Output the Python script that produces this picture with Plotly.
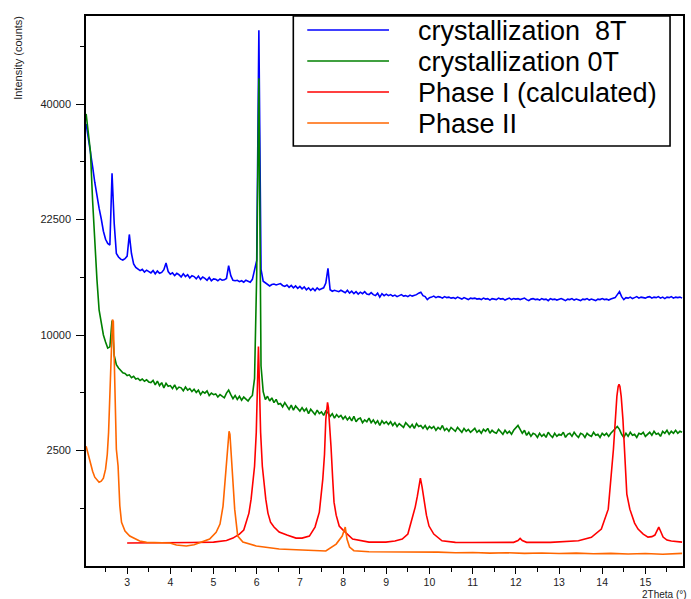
import numpy as np
import plotly.graph_objects as go

# ---------------------------------------------------------------------------
# Powder diffraction data (intensity in counts)
# ---------------------------------------------------------------------------

# measured scans share the same 2theta grid (0.05 deg step)
scan_2theta = np.linspace(2.05, 15.85, 277)

cryst_8t = [
    36630, 34500, 32500, 29900, 27600, 25600, 24000, 22600, 21000, 20000,   # 2.05-2.50
    19500, 19300, 28900, 22000, 18300, 17900, 17650, 17550, 17700, 18000,   # 2.55-3.00
    20600, 18300, 17100, 16700, 16500, 16350, 16500, 16200, 16400, 16250,   # 3.05-3.50
    16100, 16350, 16000, 16300, 16050, 16150, 16450, 17200, 16250, 15950,   # 3.55-4.00
    16100, 15800, 16050, 15900, 15650, 16000, 15700, 15900, 15550, 15800,   # 4.05-4.50
    15700, 15450, 15750, 15400, 15650, 15500, 15300, 15600, 15250, 15450,   # 4.55-5.00
    15400, 15250, 15450, 15300, 15350, 15500, 16900, 15800, 15300, 15250,   # 5.05-5.50
    15300, 15150, 15250, 15100, 15300, 15200, 15100, 15400, 16500, 17500,   # 5.55-6.00
    53800, 16500, 15200, 15050, 14900, 14700, 14850, 14900, 14800, 14850,   # 6.05-6.50
    14950, 14750, 14650, 14800, 14550, 14750, 14500, 14700, 14450, 14650,   # 6.55-7.00
    14400, 14600, 14300, 14500, 14250, 14450, 14200, 14500, 14300, 14400,   # 7.05-7.50
    14500, 15000, 16600, 14300, 14150, 14250, 14200, 14100, 14250, 14150,   # 7.55-8.00
    14000, 14250, 13950, 14150, 13900, 14100, 13850, 14050, 13900, 14100,   # 8.05-8.50
    13850, 13800, 14000, 13800, 13700, 13950, 13550, 13900, 13700, 13850,   # 8.55-9.00
    13700, 13800, 13650, 13750, 13600, 13700, 13800, 13650, 13700, 13600,   # 9.05-9.50
    13750, 13650, 13700, 13800, 13950, 14050, 13700, 13600, 13300, 13500,   # 9.55-10.00
    13550, 13650, 13500, 13600, 13550, 13450, 13600, 13500, 13550, 13450,   # 10.05-10.50
    13500, 13400, 13550, 13450, 13350, 13500, 13400, 13300, 13450, 13400,   # 10.55-11.00
    13450, 13350, 13400, 13300, 13450, 13350, 13400, 13250, 13400, 13350,   # 11.05-11.50
    13300, 13450, 13350, 13400, 13250, 13350, 13450, 13300, 13400, 13350,   # 11.55-12.00
    13400, 13300, 13350, 13450, 13300, 13200, 13350, 13400, 13300, 13350,   # 12.05-12.50
    13250, 13400, 13300, 13350, 13200, 13400, 13300, 13350, 13250, 13300,   # 12.55-13.00
    13400, 13300, 13200, 13350, 13300, 13400, 13250, 13350, 13300, 13200,   # 13.05-13.50
    13350, 13300, 13400, 13250, 13350, 13300, 13200, 13350, 13300, 13400,   # 13.55-14.00
    13300, 13350, 13250, 13350, 13400, 13500, 13800, 14100, 13600, 13300,   # 14.05-14.50
    13500, 13450, 13550, 13400, 13500, 13600, 13450, 13550, 13500, 13450,   # 14.55-15.00
    13550, 13600, 13450, 13550, 13500, 13600, 13450, 13550, 13400, 13550,   # 15.05-15.50
    13500, 13600, 13450, 13550, 13500, 13550, 13450,                        # 15.55-15.85
]

cryst_0t = [
    38300, 35200, 32200, 25000, 19300, 15400, 12300, 11200, 10000, 9400,    # 2.05-2.50
    8900, 9000, 11300, 8300, 7600, 7350, 7200, 7000, 6950, 6800,            # 2.55-3.00
    6850, 6650, 6750, 6550, 6600, 6450, 6550, 6400, 6500, 6350,             # 3.05-3.50
    6300, 6450, 6150, 6400, 6100, 6300, 5950, 6250, 6050, 6100,             # 3.55-4.00
    5900, 6150, 5850, 6000, 5950, 5750, 6000, 5800, 5900, 5700,             # 4.05-4.50
    5850, 5650, 5800, 5500, 5700, 5600, 5750, 5450, 5600, 5500,             # 4.55-5.00
    5550, 5350, 5500, 5400, 5300, 5600, 5800, 5500, 5250, 5450,             # 5.05-5.50
    5200, 5400, 5150, 5350, 5250, 5100, 5300, 5450, 6600, 16000,            # 5.55-6.00
    44600, 7500, 5700, 5200, 5400, 5100, 5300, 5000, 5200, 4900,            # 6.05-6.50
    4950, 4750, 5000, 4800, 4600, 4850, 4550, 4800, 4650, 4500,             # 6.55-7.00
    4700, 4500, 4650, 4350, 4600, 4450, 4300, 4550, 4350, 4450,             # 7.05-7.50
    4250, 4500, 4400, 4200, 4350, 4100, 4300, 4150, 4250, 4050,             # 7.55-8.00
    4200, 4000, 4150, 3950, 4200, 3900, 4050, 4100, 3850, 4000,             # 8.05-8.50
    3900, 4100, 3850, 4000, 3800, 3950, 3700, 3950, 3800, 3900,             # 8.55-9.00
    3750, 3900, 3700, 3850, 3650, 3800, 3700, 3600, 3850, 3700,             # 9.05-9.50
    3600, 3750, 3550, 3800, 3650, 3700, 3550, 3700, 3500, 3650,             # 9.55-10.00
    3550, 3650, 3450, 3600, 3500, 3700, 3450, 3550, 3400, 3600,             # 10.05-10.50
    3500, 3400, 3600, 3450, 3350, 3550, 3400, 3500, 3350, 3450,             # 10.55-11.00
    3550, 3350, 3450, 3300, 3500, 3400, 3550, 3300, 3450, 3350,             # 11.05-11.50
    3300, 3500, 3350, 3250, 3450, 3300, 3400, 3250, 3450, 3550,             # 11.55-12.00
    3700, 3500, 3300, 3450, 3200, 3350, 3150, 3300, 3250, 3100,             # 12.05-12.50
    3300, 3150, 3250, 3100, 3350, 3200, 3100, 3300, 3150, 3250,             # 12.55-13.00
    3200, 3350, 3100, 3250, 3300, 3150, 3350, 3200, 3100, 3300,             # 13.05-13.50
    3250, 3100, 3300, 3200, 3150, 3350, 3200, 3250, 3100, 3300,             # 13.55-14.00
    3200, 3300, 3150, 3300, 3400, 3550, 3650, 3500, 3250, 3100,             # 14.05-14.50
    3300, 3150, 3350, 3200, 3250, 3100, 3300, 3250, 3350, 3150,             # 14.55-15.00
    3250, 3350, 3200, 3400, 3250, 3300, 3150, 3400, 3300, 3450,             # 15.05-15.50
    3250, 3400, 3300, 3450, 3300, 3400, 3350,                               # 15.55-15.85
]

# calculated pattern of phase I
phase1_2theta = [
    3.00, 3.50, 4.00, 4.50, 5.00, 5.30, 5.45, 5.60, 5.70, 5.76, 5.82, 5.87, 5.91,
    5.95, 5.99, 6.02, 6.04, 6.06, 6.09, 6.13, 6.17, 6.21, 6.26, 6.32, 6.40, 6.52,
    6.70, 6.91, 7.05, 7.22, 7.35, 7.45, 7.53, 7.57, 7.60, 7.62, 7.64, 7.66, 7.69,
    7.72, 7.76, 7.79, 7.84, 7.91, 8.00, 8.22, 8.60, 8.99, 9.20, 9.37, 9.50, 9.60,
    9.67, 9.72, 9.76, 9.79, 9.83, 9.87, 9.93, 9.99, 10.10, 10.29, 10.60, 11.00,
    11.50, 11.95, 12.05, 12.10, 12.15, 12.25, 12.80, 13.20, 13.45, 13.75, 13.98,
    14.14, 14.18, 14.22, 14.26, 14.30, 14.34, 14.37, 14.39, 14.41, 14.44, 14.48,
    14.53, 14.57, 14.64, 14.75, 14.83, 14.95, 15.06, 15.15, 15.22, 15.27, 15.31,
    15.35, 15.41, 15.50, 15.60, 15.85,
]
phase1_counts = [
    99, 99, 100, 103, 107, 121, 146, 191, 242, 361, 524, 838, 1285,
    1866, 3350, 6525, 9031, 6525, 3350, 1866, 1285, 838, 524, 361, 284, 216,
    179, 146, 146, 168, 284, 544, 1412, 2340, 4032, 4717, 5018, 4717, 3763,
    2687, 1412, 764, 485, 299, 242, 136, 107, 107, 117, 136, 191, 412,
    650, 914, 1255, 1445, 1165, 838, 485, 299, 191, 119, 105, 103,
    103, 105, 121, 143, 121, 105, 105, 112, 119, 154, 255,
    606, 1022, 1756, 2554, 4032, 5392, 6045, 6181, 6045, 5392, 4032,
    1756, 967, 606, 345, 255, 191, 157, 162, 179, 229, 284,
    229, 157, 126, 117, 107,
]

# measured pattern of phase II
phase2_2theta = [
    2.05, 2.08, 2.12, 2.16, 2.20, 2.25, 2.30, 2.35, 2.40, 2.45, 2.50, 2.54, 2.57,
    2.60, 2.62, 2.64, 2.66, 2.68, 2.70, 2.72, 2.75, 2.79, 2.83, 2.87, 2.95, 3.06,
    3.29, 3.45, 3.70, 3.99, 4.14, 4.37, 4.55, 4.68, 4.91, 5.06, 5.15, 5.22, 5.29,
    5.33, 5.36, 5.38, 5.43, 5.49, 5.56, 5.68, 5.99, 6.52, 7.05, 7.30, 7.60, 7.84,
    7.98, 8.05, 8.09, 8.15, 8.25, 8.60, 9.00, 9.40, 9.80, 10.20, 10.60, 11.00,
    11.40, 11.80, 12.20, 12.60, 13.00, 13.40, 13.80, 14.20, 14.60, 15.00, 15.40,
    15.70, 15.85,
]
phase2_counts = [
    2687, 2468, 2136, 1903, 1684, 1478, 1380, 1317, 1348, 1445, 1756, 2340, 3350,
    5520, 7996, 10480, 11384, 11200, 7996, 4032, 2554, 1866, 679, 356, 229, 168,
    117, 105, 101, 99, 82, 75, 84, 99, 136, 212, 329, 672, 1866,
    2777, 3401, 3251, 1866, 606, 168, 107, 75, 54, 48, 45, 42, 90,
    168, 284, 136, 67, 44, 38, 37, 40, 35, 36, 33, 34,
    31, 33, 30, 32, 29, 31, 28, 30, 27, 29, 26,
    28, 30,
]

series_names = ["crystallization\u00a0 8T", "crystallization 0T",
                "Phase I (calculated)", "Phase II"]
series_colors = ["#0000ff", "#008000", "#ff0000", "#ff6600"]

y_tick_counts = [2500, 10000, 22500, 40000]
y_minor_counts = [625, 5625, 15625, 30625, 50625]

# ---------------------------------------------------------------------------
# Figure geometry (pixels)
# ---------------------------------------------------------------------------
W, H = 691, 599
ML, MR, MT, MB = 86, 6, 16, 33
PW, PH = W - ML - MR, H - MT - MB


def px_x(px):
    return (px - ML) / PW


def px_y(py):
    return (H - MB - py) / PH


font_family = "Liberation Sans, Arial, sans-serif"

fig = go.Figure()
series = [
    (scan_2theta, cryst_8t),
    (scan_2theta, cryst_0t),
    (phase1_2theta, phase1_counts),
    (phase2_2theta, phase2_counts),
]
for (tt, counts), name, color in zip(series, series_names, series_colors):
    fig.add_trace(go.Scatter(
        x=tt, y=np.sqrt(np.asarray(counts, dtype=float)),
        mode="lines", name=name, showlegend=False,
        line=dict(color=color, width=1.6),
        hoverinfo="skip",
    ))

fig.update_layout(
    width=W, height=H,
    margin=dict(l=ML, r=MR, t=MT, b=MB, pad=0),
    paper_bgcolor="white", plot_bgcolor="white",
    font=dict(family=font_family, color="#222"),
    showlegend=False,
)

fig.update_xaxes(
    range=[2.047, 15.871],
    tickmode="linear", tick0=3, dtick=1,
    ticks="outside", ticklen=6, tickwidth=1.3, tickcolor="black",
    tickfont=dict(size=10.5, color="#222"),
    minor=dict(tickmode="linear", tick0=2.5, dtick=0.5, ticks="outside",
               ticklen=4, tickwidth=1.3, tickcolor="black"),
    showline=True, linecolor="black", linewidth=1.6, mirror=True,
    showgrid=False, zeroline=False,
)

fig.update_yaxes(
    range=[0, 238.1],
    tickmode="array",
    tickvals=np.sqrt(y_tick_counts),
    ticktext=[str(v) for v in y_tick_counts],
    ticks="outside", ticklen=8, tickwidth=1.3, tickcolor="black",
    tickfont=dict(size=11, color="#222"),
    ticklabelstandoff=3,
    minor=dict(tickmode="array", tickvals=np.sqrt(y_minor_counts),
               ticks="outside", ticklen=4, tickwidth=1.3, tickcolor="black"),
    showline=True, linecolor="black", linewidth=1.6, mirror=True,
    showgrid=False, zeroline=False,
)

# axis titles
fig.add_annotation(
    text="Intensity (counts)", textangle=-90,
    xref="paper", yref="paper", x=px_x(17.5), y=px_y(14),
    xanchor="center", yanchor="top", showarrow=False,
    font=dict(size=11, color="#222", family=font_family),
)
fig.add_annotation(
    text="2Theta (°)",
    xref="paper", yref="paper", x=px_x(690), y=px_y(601),
    xanchor="right", yanchor="bottom", showarrow=False, borderpad=0,
    font=dict(size=10, color="#222", family=font_family),
)

# legend box with line samples
fig.add_shape(
    type="rect", xref="paper", yref="paper",
    x0=px_x(294), x1=px_x(672), y0=px_y(146), y1=px_y(16),
    line=dict(color="black", width=1.6), fillcolor="white", layer="above",
)
row_y = [30, 61, 92, 123]
for name, color, ry in zip(series_names, series_colors, row_y):
    fig.add_shape(
        type="line", xref="paper", yref="paper",
        x0=px_x(308), x1=px_x(390), y0=px_y(ry), y1=px_y(ry),
        line=dict(color=color, width=1.4), layer="above",
    )
    fig.add_annotation(
        text=name, xref="paper", yref="paper",
        x=px_x(417), y=px_y(ry + 1), xanchor="left", yanchor="middle",
        showarrow=False, font=dict(size=27, color="black", family=font_family),
    )

fig.write_html("out.html")
